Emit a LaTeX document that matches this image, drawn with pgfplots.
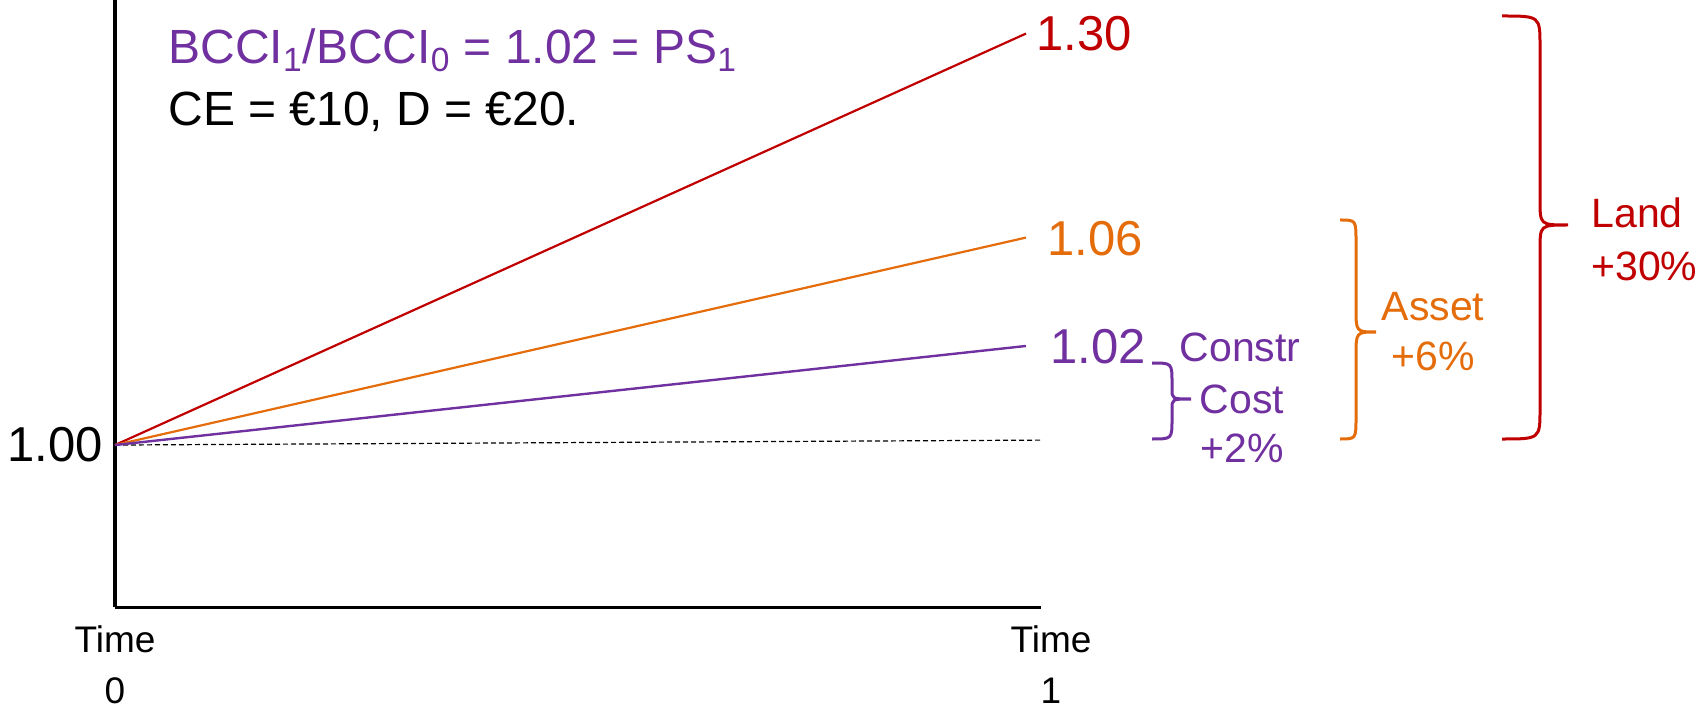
\documentclass[border=0pt]{standalone}
\usepackage{fontspec}
\setmainfont{Liberation Sans}
\usepackage{pgfplots}
\pgfplotsset{compat=1.18}
\definecolor{cred}{HTML}{C00000}
\definecolor{corange}{HTML}{E46C0A}
\definecolor{cpurple}{HTML}{7030A0}
\begin{document}
\begin{tikzpicture}
\begin{scope}[x=0.5pt,y=-0.5pt]
\useasboundingbox (0,0) rectangle (1701,705);
\end{scope}
\begin{pgfinterruptboundingbox}
\begin{axis}[
  at={(57.5pt,-303.5pt)}, anchor=south west,
  scale only axis, width=463pt, height=303.5pt,
  xmin=0, xmax=1.0165, ymin=0.8818, ymax=1.3248,
  axis lines=left, axis line style={-, line width=1.5pt},
  major tick length=0pt,
  xtick={0,1.0165}, xticklabels={{Time\\0},{\hspace*{10pt}Time\\\hspace*{10pt}1}},
  xticklabel style={align=center, font=\fontsize{18.5}{25.5}\selectfont, inner sep=0pt, yshift=-9pt},
  ytick={1}, yticklabels={1.00},
  yticklabel style={font=\fontsize{24.5}{28}\selectfont, inner sep=0pt, xshift=-6pt},
  clip=false,
]
\addplot[black, line width=0.6pt, dash pattern=on 2.5pt off 1.5pt] coordinates {(0,1.00) (1.0165,1.0036)};
\addplot[cred, line width=1.1pt] coordinates {(0,1.00) (1,1.3003)};
\addplot[corange, line width=1.1pt] coordinates {(0,1.00) (1,1.1514)};
\addplot[cpurple, line width=1.2pt] coordinates {(0,1.00) (1,1.0723)};
\end{axis}
\end{pgfinterruptboundingbox}
\begin{scope}[x=0.5pt,y=-0.5pt]
% top text
\node[anchor=base west, inner sep=0, text=cpurple, font=\fontsize{24}{29}\selectfont] at (168,64)
  {BCCI\textsubscript{1}/BCCI\textsubscript{0} = 1.02 = PS\textsubscript{1}};
\node[anchor=base west, inner sep=0, text=black, font=\fontsize{24}{29}\selectfont] at (168,126)
  {CE = €10, D = €20.};
% end labels
\node[anchor=west, inner sep=0, text=cred, font=\fontsize{24.5}{29}\selectfont] at (1036,34) {1.30};
\node[anchor=west, inner sep=0, text=corange, font=\fontsize{24.5}{29}\selectfont] at (1047,239) {1.06};
\node[anchor=west, inner sep=0, text=cpurple, font=\fontsize{24.5}{29}\selectfont] at (1050,347) {1.02};
% purple brace
\draw[cpurple, line width=1.5pt] (1152,363) .. controls (1172,363) .. (1172,383) -- (1172,389)
  .. controls (1172,399) .. (1191,399) .. controls (1172,399) .. (1172,409) -- (1172,419)
  .. controls (1172,439) .. (1152,439);
\node[text=cpurple, inner sep=0, font=\fontsize{20.5}{25}\selectfont] at (1240,347) {Constr};
\node[text=cpurple, inner sep=0, font=\fontsize{20.5}{25}\selectfont] at (1242,399) {Cost};
\node[text=cpurple, inner sep=0, font=\fontsize{20.5}{25}\selectfont] at (1242,448) {+2\%};
% orange brace
\draw[corange, line width=1.5pt] (1340,220) .. controls (1356,220) .. (1356,242) -- (1356,308)
  .. controls (1356,332) .. (1376,332) .. controls (1356,332) .. (1356,356) -- (1356,417)
  .. controls (1356,439) .. (1340,439);
\node[text=corange, inner sep=0, font=\fontsize{20.5}{25}\selectfont] at (1433,307) {Asset};
\node[text=corange, inner sep=0, font=\fontsize{20.5}{25}\selectfont] at (1433,356) {+6\%};
% red brace
\draw[cred, line width=1.5pt] (1502,16) .. controls (1540,16) .. (1540,46) -- (1540,200)
  .. controls (1540,225) .. (1568,225) .. controls (1540,225) .. (1540,250) -- (1540,409)
  .. controls (1540,439) .. (1502,439);
\node[anchor=west, text=cred, inner sep=0, font=\fontsize{20.5}{25}\selectfont] at (1591,213) {Land};
\node[anchor=west, text=cred, inner sep=0, font=\fontsize{20.5}{25}\selectfont] at (1591,266) {+30\%};
\end{scope}
\end{tikzpicture}
\end{document}
